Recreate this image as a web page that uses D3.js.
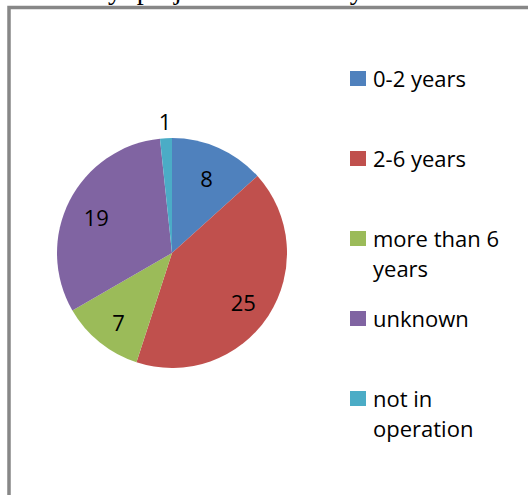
<!DOCTYPE html>
<html>
<head>
<meta charset="utf-8">
<script src="https://cdn.jsdelivr.net/npm/d3@7"></script>
<style>
  html, body { margin: 0; padding: 0; background: #fff; overflow: hidden; }
</style>
</head>
<body>
<div id="chart"></div>
<script>
// data
var categories = ["0-2 years", "2-6 years", "more than 6 years", "unknown", "not in operation"];
var values = [8, 25, 7, 19, 1];
var colors = ["#4F81BD", "#C0504D", "#9BBB59", "#8064A2", "#4BACC6"];
var titleText = "Maturity: projects and activity";

var width = 528, height = 495;

var svg = d3.select("#chart").append("svg")
    .attr("width", width)
    .attr("height", height);

// title of the document, mostly above the visible area
svg.append("text")
    .attr("x", 24)
    .attr("y", -1)
    .style("font-family", "'Liberation Serif', 'Times New Roman', serif")
    .style("font-size", "28px")
    .text(titleText);

// chart frame (right and bottom are outside the picture)
svg.append("rect")
    .attr("x", 9)
    .attr("y", 7.5)
    .attr("width", 600)
    .attr("height", 600)
    .attr("fill", "none")
    .attr("stroke", "#878787")
    .attr("stroke-width", 3.5);

var cx = 172, cy = 253, radius = 115;

var pie = d3.pie().sort(null).value(d => d);
var arcs = pie(values);

var arc = d3.arc().innerRadius(0).outerRadius(radius);
var labelArc = d3.arc().innerRadius(85).outerRadius(85);
var outerArc = d3.arc().innerRadius(radius + 20).outerRadius(radius + 20);

var g = svg.append("g").attr("transform", "translate(" + cx + "," + cy + ")");

g.selectAll("path")
    .data(arcs)
    .enter()
    .append("path")
    .attr("d", arc)
    .attr("fill", (d, i) => colors[i]);

// slices that are too small get their label outside the pie
g.selectAll("text.val")
    .data(arcs)
    .enter()
    .append("text")
    .attr("class", "val")
    .attr("transform", d => {
        var small = (d.endAngle - d.startAngle) < 0.3;
        var p = small ? outerArc.centroid(d) : labelArc.centroid(d);
        return "translate(" + p[0] + "," + (p[1] + 3) + ")";
    })
    .attr("text-anchor", "middle")
    .attr("dominant-baseline", "central")
    .style("font-family", "'Open Sans', sans-serif")
    .style("font-size", "22px")
    .style("fill", "#000")
    .text(d => d.data);

// legend
var legendY = d3.scalePoint()
    .domain(categories)
    .range([71, 391]);

var legend = svg.append("g");

var item = legend.selectAll("g")
    .data(categories)
    .enter()
    .append("g")
    .attr("transform", d => "translate(350," + legendY(d) + ")");

item.append("rect")
    .attr("width", 16)
    .attr("height", 15)
    .attr("fill", (d, i) => colors[i]);

item.append("text")
    .attr("x", 23)
    .attr("y", 16)
    .style("font-family", "'Open Sans', sans-serif")
    .style("font-size", "22px")
    .style("fill", "#000")
    .each(function(d) {
        // simple word wrap to the space right of the pie
        var el = d3.select(this);
        var words = d.split(" ");
        var line = [];
        var lineNo = 0;
        var tspan = el.append("tspan").attr("x", 23).attr("dy", 0);
        words.forEach(w => {
            line.push(w);
            tspan.text(line.join(" "));
            if (tspan.node().getComputedTextLength() > 140 && line.length > 1) {
                line.pop();
                tspan.text(line.join(" "));
                line = [w];
                lineNo++;
                tspan = el.append("tspan").attr("x", 23).attr("dy", 30).text(w);
            }
        });
    });
</script>
</body>
</html>
